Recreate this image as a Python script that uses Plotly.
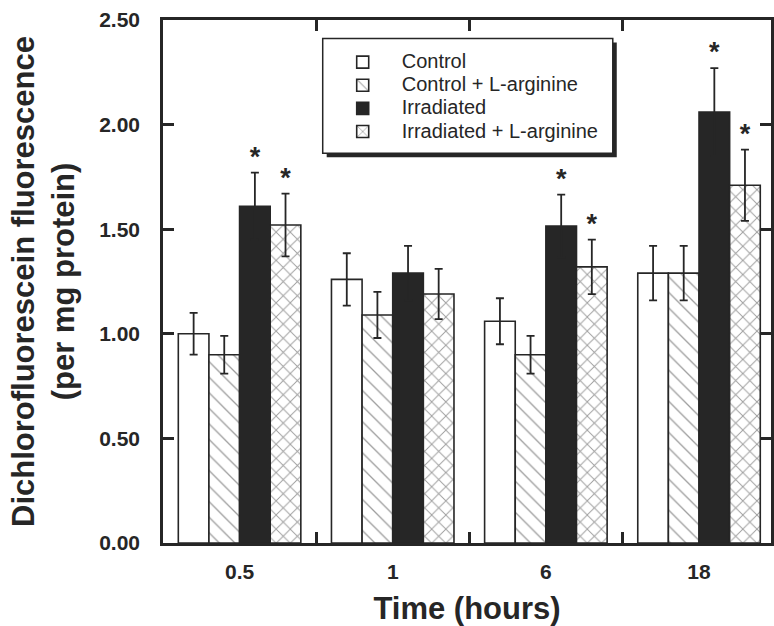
import plotly.graph_objects as go

# ---- data ----
time_labels = ["0.5", "1", "6", "18"]
series_names = ["Control", "Control + L-arginine", "Irradiated", "Irradiated + L-arginine"]
control = [1.00, 1.26, 1.06, 1.29]
control_err = [0.10, 0.125, 0.11, 0.13]
control_arg = [0.90, 1.09, 0.90, 1.29]
control_arg_err = [0.09, 0.11, 0.09, 0.13]
irradiated = [1.61, 1.29, 1.515, 2.06]
irradiated_err = [0.16, 0.13, 0.15, 0.21]
irradiated_arg = [1.52, 1.19, 1.32, 1.71]
irradiated_arg_err = [0.15, 0.12, 0.13, 0.17]
irradiated_sig = [True, False, True, True]
irradiated_arg_sig = [True, False, True, True]
control_sig = [False, False, False, False]
control_arg_sig = [False, False, False, False]
y_ticks = [0.0, 0.5, 1.0, 1.5, 2.0, 2.5]

values = [control, control_arg, irradiated, irradiated_arg]
errors = [control_err, control_arg_err, irradiated_err, irradiated_arg_err]
sigs = [control_sig, control_arg_sig, irradiated_sig, irradiated_arg_sig]

INK = "#262626"
FONT = "Liberation Sans"
bar_w = 0.2
offsets = [-1.5 * bar_w, -0.5 * bar_w, 0.5 * bar_w, 1.5 * bar_w]
styles = [
    dict(color="white", pattern=None),
    dict(color="white", pattern=dict(shape="\\", fgcolor="#3c3c3c", bgcolor="white", size=11, solidity=0.12)),
    dict(color="#262626", pattern=None),
    dict(color="white", pattern=dict(shape="x", fgcolor="#3c3c3c", bgcolor="white", size=10, solidity=0.18)),
]

fig = go.Figure()
idx = list(range(len(time_labels)))
for k in range(4):
    xs = [i + offsets[k] for i in idx]
    marker = dict(color=styles[k]["color"], line=dict(color=INK, width=1.6))
    if styles[k]["pattern"]:
        marker["pattern"] = styles[k]["pattern"]
    fig.add_trace(go.Bar(
        x=xs, y=values[k], width=bar_w,
        name='<span style="font-size:20px">' + series_names[k] + '</span>',
        marker=marker,
        error_y=dict(type="data", array=errors[k], visible=True, color=INK, thickness=1.8, width=4),
    ))
    sx = [xs[i] for i in idx if sigs[k][i]]
    sy = [values[k][i] + errors[k][i] for i in idx if sigs[k][i]]
    if sx:
        fig.add_trace(go.Scatter(
            x=sx, y=sy, mode="text", text=["<b>*</b>"] * len(sx), textposition="top center",
            textfont=dict(family=FONT, size=27, color=INK),
            showlegend=False, hoverinfo="skip",
        ))

# legend frame with drop shadow (pixel geometry converted to paper coords)
PL, PW, PB, PH = 163.0, 611.0, 543.0, 522.5
def px_x(v):
    return (v - PL) / PW
def px_y(v):
    return (PB - v) / PH
box = (323.5, 39.0, 615.0, 153.5)
shapes = [
    dict(type="rect", xref="paper", yref="paper", layer="above",
         x0=px_x(box[0] + 4), x1=px_x(box[2] + 4), y0=px_y(box[3] + 4), y1=px_y(box[1] + 4),
         fillcolor=INK, line=dict(width=0)),
    dict(type="rect", xref="paper", yref="paper", layer="above",
         x0=px_x(box[0]), x1=px_x(box[2]), y0=px_y(box[3]), y1=px_y(box[1]),
         fillcolor="white", line=dict(color=INK, width=1.5)),
]

fig.update_layout(
    width=774, height=626,
    margin=dict(l=163, r=0, t=20, b=83),
    paper_bgcolor="white", plot_bgcolor="white",
    barmode="overlay",
    font=dict(family=FONT, color=INK),
    showlegend=True,
    shapes=shapes,
    legend=dict(
        x=px_x(box[0] + 1), y=px_y(box[1] + 7), xanchor="left", yanchor="top",
        bgcolor="rgba(0,0,0,0)", borderwidth=0,
        font=dict(family=FONT, size=15.5, color=INK),
        itemwidth=68, tracegroupgap=0,
    ),
)
fig.update_xaxes(
    range=[-0.5, 3.47],
    tickmode="array", tickvals=idx, ticktext=time_labels, ticks="",
    tickfont=dict(family=FONT, size=21, color=INK, weight="bold"),
    ticklabelstandoff=8,
    minor=dict(tickmode="array", tickvals=[0.5, 1.5, 2.5], ticks="inside", ticklen=11, tickwidth=2.5, tickcolor=INK),
    showline=True, linecolor=INK, linewidth=2.5, mirror="ticks",
    showgrid=False, zeroline=False,
    title=dict(text="<b>Time (hours)</b>", font=dict(family=FONT, size=31, color=INK), standoff=21),
)
fig.update_yaxes(
    range=[0, 2.5], tickmode="array", tickvals=y_ticks,
    ticktext=["%.2f" % v for v in y_ticks],
    ticks="inside", ticklen=11, tickwidth=2.5, tickcolor=INK,
    tickfont=dict(family=FONT, size=21, color=INK, weight="bold"),
    ticklabelstandoff=16,
    showline=True, linecolor=INK, linewidth=2.5, mirror="ticks",
    showgrid=False, zeroline=False,
    title=dict(text="<b>Dichlorofluorescein fluorescence<br>(per mg protein)</b>",
               font=dict(family=FONT, size=31, color=INK), standoff=16),
)
fig.write_html("out.html")
